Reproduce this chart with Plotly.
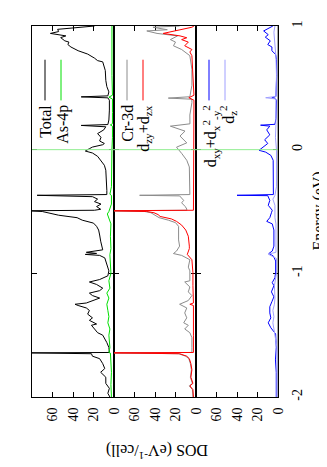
import plotly.graph_objects as go

# ---------------- data (energy in eV, DOS in states/eV/cell) ----------------
E_total = [-2.00, -1.97, -1.93, -1.89, -1.84, -1.80, -1.77, -1.73, -1.69, -1.67,
           -1.650, -1.643, -1.640, -1.60, -1.56, -1.53, -1.50, -1.48, -1.45, -1.42,
           -1.41, -1.38, -1.36, -1.33, -1.30, -1.28, -1.26, -1.25, -1.24, -1.22,
           -1.20, -1.18, -1.16, -1.14, -1.12, -1.09, -1.07, -1.05, -1.02, -0.98,
           -0.955, -0.915, -0.875, -0.855, -0.847, -0.839, -0.83, -0.81, -0.78, -0.74,
           -0.69, -0.65, -0.62, -0.594, -0.57, -0.55, -0.53, -0.51, -0.50, -0.494,
           -0.490, -0.482, -0.46, -0.44, -0.42, -0.40, -0.38, -0.369, -0.363, -0.33,
           -0.246, -0.166, -0.126, -0.086, -0.054, -0.027, -0.011, 0.008, 0.021, 0.04,
           0.05, 0.07, 0.10, 0.13, 0.16, 0.185, 0.196, 0.203, 0.24, 0.32,
           0.40, 0.419, 0.427, 0.435, 0.467, 0.51, 0.56, 0.64, 0.71, 0.72,
           0.74, 0.773, 0.80, 0.83, 0.85, 0.87, 0.88, 0.906, 0.92, 0.94,
           0.955, 0.973, 0.987, 1.0]
DOS_total = [4, 6, 4.5, 8, 8, 13, 9, 11, 14, 21,
             22, 85, 4.5, 5, 7, 9.4, 11, 16, 19, 22,
             17, 24, 21, 25.7, 24, 27, 35, 38, 27, 21,
             14, 21, 24, 14, 11, 17, 24, 14, 6, 5,
             6, 8, 9, 14, 28, 17, 27, 11, 12, 13,
             14, 15, 17, 20, 31, 36, 54, 63, 70, 85,
             19, 13, 17, 12.7, 19, 16, 21, 75, 7, 7,
             7.5, 8, 9.4, 12.7, 16, 21, 28, 24, 21, 11,
             9.4, 14, 12.7, 16, 10, 8, 32, 6, 5, 4.5,
             4.5, 6, 32, 6, 5, 7, 8, 8.5, 11, 16,
             19, 25.7, 35, 42, 45, 44, 48, 52, 47, 62,
             54, 55, 38, 19]

E_as4p = [-2.0, -1.9, -1.8, -1.7, -1.645, -1.64, -1.6, -1.5, -1.45, -1.4,
          -1.35, -1.3, -1.25, -1.2, -1.16, -1.12, -1.06, -1.0, -0.9, -0.85,
          -0.8, -0.7, -0.6, -0.55, -0.52, -0.5, -0.47, -0.44, -0.37, -0.36,
          -0.3, -0.2, -0.1, 0.0, 0.1, 0.19, 0.2, 0.21, 0.3, 0.41,
          0.425, 0.44, 0.6, 0.8, 0.9, 1.0]
DOS_as4p = [2.5, 3, 2.5, 3, 3.5, 5, 4, 5, 4, 6,
            5, 6, 7, 5, 7, 4, 5, 3, 3.5, 4,
            3, 3.5, 3, 5, 6.5, 5, 3.5, 2.5, 2.5, 4,
            2.5, 2.5, 2, 2, 1.5, 1.5, 3.5, 1.5, 1.5, 1.5,
            5, 1.5, 2, 2, 2.5, 2]

E_cr3d = [-2.0, -1.94, -1.91, -1.89, -1.84, -1.78, -1.73, -1.69, -1.67, -1.65,
          -1.643, -1.640, -1.60, -1.52, -1.48, -1.45, -1.42, -1.40, -1.36, -1.32,
          -1.28, -1.25, -1.22, -1.18, -1.15, -1.11, -1.07, -1.06, -0.98, -0.95,
          -0.89, -0.855, -0.84, -0.82, -0.78, -0.73, -0.62, -0.59, -0.57, -0.55,
          -0.53, -0.51, -0.50, -0.494, -0.490, -0.48, -0.46, -0.43, -0.41, -0.374,
          -0.369, -0.363, -0.14, -0.086, -0.03, -0.005, 0.02, 0.055, 0.11, 0.15,
          0.19, 0.209, 0.28, 0.38, 0.408, 0.417, 0.428, 0.52, 0.65, 0.76,
          0.79, 0.81, 0.84, 0.87, 0.89, 0.92, 0.94, 0.96, 0.97, 0.99,
          1.0]
DOS_cr3d = [3, 3.5, 6.5, 3.5, 5.5, 4.5, 5.5, 7, 10, 17,
            85, 4, 4, 4, 6, 11, 7.5, 12, 9, 11,
            9, 16, 7.5, 4, 7.5, 6, 11, 6, 6, 7.5,
            6, 14, 22, 19, 16, 17, 17, 20, 27, 36,
            40, 44, 50, 85, 9, 9, 10.5, 14, 12, 16,
            55, 6, 6.5, 9, 14, 17, 19, 9, 15.6, 10.7,
            25, 5.9, 6, 4, 4, 27, 6, 4, 4, 6,
            11, 14, 22, 20, 25, 18, 38, 48, 28, 42,
            16]

E_dzx = [-2.0, -1.94, -1.91, -1.89, -1.84, -1.78, -1.73, -1.69, -1.67, -1.65,
         -1.643, -1.640, -1.5, -1.3, -1.26, -1.25, -1.24, -1.1, -0.995, -0.89,
         -0.847, -0.80, -0.78, -0.70, -0.65, -0.61, -0.58, -0.56, -0.54, -0.525,
         -0.51, -0.50, -0.494, -0.490, -0.37, -0.35, 0.0, 0.4, 0.42, 0.44,
         0.76, 0.79, 0.81, 0.84, 0.87, 0.89, 0.905, 0.92, 0.94, 0.965,
         0.99, 1.0]
DOS_dzx = [2.5, 3, 6, 3, 5, 4, 5, 6.5, 9, 16,
           85, 2.5, 2.5, 2.5, 2.5, 6, 2.5, 3, 3, 4,
           8.5, 6.5, 6.5, 7.5, 10, 14, 19, 24, 35, 37,
           41, 48, 85, 2.5, 2.5, 2, 2, 2, 7, 2,
           4, 6, 4, 11, 7.5, 14, 9, 15.6, 32, 18,
           4, 2]

E_dxy = [-2.0, -1.8, -1.7, -1.6, -1.49, -1.46, -1.44, -1.40, -1.36, -1.32,
         -1.27, -1.23, -1.19, -1.15, -1.10, -1.075, -1.035, -0.99, -0.90, -0.86,
         -0.84, -0.82, -0.78, -0.65, -0.60, -0.58, -0.55, -0.51, -0.49, -0.45,
         -0.41, -0.372, -0.369, -0.363, -0.30, -0.14, -0.086, -0.046, -0.02, -0.005,
         0.02, 0.05, 0.08, 0.12, 0.16, 0.19, 0.198, 0.205, 0.25, 0.40,
         0.415, 0.42, 0.43, 0.6, 0.73, 0.77, 0.80, 0.83, 0.85, 0.88,
         0.91, 0.93, 0.96, 0.99, 1.0]
DOS_dxy = [1.7, 1.7, 2.5, 1.7, 2.3, 5.6, 7, 9.5, 7, 8,
           8, 6, 4, 6.4, 4, 5.6, 3, 2.3, 2.3, 4.5,
           9, 5.6, 4, 4, 5.6, 11, 8, 6.4, 5.6, 9.5,
           8, 10, 40, 4.5, 4.5, 4.5, 4.7, 7, 12, 18.5,
           15, 10, 13, 8, 11, 8, 17, 3, 2, 1.5,
           3, 6, 2, 1.3, 1.5, 2.3, 6, 5.9, 10, 7.5,
           12.4, 9.5, 14, 7.5, 5]

E_dz2 = [-2.0, -1.6, -1.55, -1.5, -1.45, -1.4, -1.35, -1.3, -1.25, -1.2,
         -1.1, -1.0, -0.88, -0.845, -0.83, -0.6, -0.55, -0.45, -0.40, -0.37,
         -0.3, 0.0, 0.1, 0.2, 0.41, 0.42, 0.43, 0.6, 0.75, 0.85,
         0.95, 1.0]
DOS_dz2 = [1, 1, 2, 3, 4, 5, 4, 5, 3.5, 3,
           3.5, 1.5, 1.5, 9.5, 2, 2, 3, 3, 5, 3,
           1.5, 1.5, 2.5, 2, 2, 12, 2, 1.5, 2, 3,
           4, 3]

dos_ticks = [0, 20, 40, 60]
energy_ticks = [-2, -1, 0, 1]
energy_ticktext = ["-2", "-1", "0", "1"]

panels = [
    [("Total", E_total, DOS_total, "#000000"), ("As-4p", E_as4p, DOS_as4p, "#00e000")],
    [("Cr-3d", E_cr3d, DOS_cr3d, "#8c8c8c"), ("dzy+dzx", E_dzx, DOS_dzx, "#ff0000")],
    [("dxy", E_dxy, DOS_dxy, "#0000ff"), ("dz2", E_dz2, DOS_dz2, "#a0a0ff")],
]

FONT = "Liberation Serif, Times New Roman, serif"

fig = go.Figure()
for i, panel in enumerate(panels):
    suffix = "" if i == 0 else str(i + 1)
    for name, e, d, col in panel:
        fig.add_trace(go.Scatter(x=d, y=e, mode="lines", name=name,
                                 line=dict(color=col, width=1),
                                 xaxis="x" + suffix, yaxis="y" + suffix,
                                 showlegend=False, hoverinfo="skip"))

# the page body has an 8px default margin; compensate so that the plot
# area lands on the same page pixels as the reference
OFF = 8
PAGE_W, PAGE_H = 327, 467
W, H = PAGE_W - OFF, PAGE_H - OFF
PL, PT, PR, PB = 32, 23, 278, 397          # plot area in page pixels
L, T = PL - OFF, PT - OFF
R, B = W - (PR - OFF), H - (PB - OFF)
pw = PR - PL
ph = PB - PT

def px(x):
    return (x - PL) / pw

def py(y):
    return (PB - y) / ph

layout = dict(width=W, height=H, margin=dict(l=L, r=R, t=T, b=B, pad=0),
              paper_bgcolor="white", plot_bgcolor="white",
              font=dict(family=FONT, size=14, color="black"), showlegend=False)

for i in range(3):
    suffix = "" if i == 0 else str(i + 1)
    layout["xaxis" + suffix] = dict(
        domain=[i / 3, (i + 1) / 3], anchor="y" + suffix, range=[80, 0],
        tickmode="array", tickvals=dos_ticks, ticks="inside", ticklen=5,
        tickcolor="black", showline=True, linecolor="black", linewidth=1,
        mirror="ticks", showgrid=False, zeroline=False, tickangle=-90,
        tickfont=dict(family=FONT, size=14), ticklabelstandoff=4,
        layer="below traces")
    ya = dict(domain=[0, 1], anchor="x" + suffix, range=[-2, 1],
              tickmode="array", tickvals=energy_ticks, ticktext=energy_ticktext,
              ticks="inside", ticklen=5, tickcolor="black", showline=True,
              linecolor="black", linewidth=1, mirror="ticks", showgrid=False,
              zeroline=False, showticklabels=False, layer="below traces")
    if i == 2:
        ya.update(side="right", showticklabels=True, tickangle=-90,
                  tickfont=dict(family=FONT, size=14), ticklabelstandoff=6)
    layout["yaxis" + suffix] = ya

fig.update_layout(**layout)

# gray zero-DOS lines on the lower two panels
for ax in ("x2", "x3"):
    fig.add_shape(type="line", xref=ax, yref="paper", x0=0, x1=0, y0=0, y1=1,
                  line=dict(color="#8c8c8c", width=1.5), layer="below")

# Fermi level
fig.add_shape(type="line", xref="paper", yref="y", x0=0, x1=1, y0=0, y1=0,
              line=dict(color="#90ee90", width=1), layer="above")

# legends (rotated, drawn manually)
legend_items = [
    ("Total", 46, 45, "#000000"),
    ("As-4p", 63, 61, "#00e000"),
    ("Cr-3d", 128, 127, "#8c8c8c"),
    ("d<sub>zy</sub>+d<sub>zx</sub>", 145, 143, "#ff0000"),
    ("d<sub>xy</sub>+d<sub>x</sub><sup>2</sup><sub>-y</sub><sup>2</sup>", 211, 209, "#0000ff"),
    ("d<sub>z</sub><sup>2</sup>", 228, 225, "#a0a0ff"),
]
for text, tx, lx, col in legend_items:
    fig.add_annotation(text=text, xref="paper", yref="paper", x=px(tx), y=py(101),
                       xanchor="center", yanchor="top", textangle=-90,
                       showarrow=False, font=dict(family=FONT, size=16))
    fig.add_shape(type="line", xref="paper", yref="paper", x0=px(lx), x1=px(lx),
                  y0=py(57), y1=py(98), line=dict(color=col, width=1))

fig.add_annotation(text="Energy (eV)", xref="paper", yref="paper", x=px(318), y=py(210),
                   xanchor="center", yanchor="middle", textangle=-90, showarrow=False,
                   font=dict(family=FONT, size=16))
fig.add_annotation(text="DOS (eV<sup>-1</sup>/cell)", xref="paper", yref="paper",
                   x=px(157), y=py(452), xanchor="center", yanchor="middle",
                   textangle=180, showarrow=False, font=dict(family=FONT, size=16))

fig.write_html("out.html")
